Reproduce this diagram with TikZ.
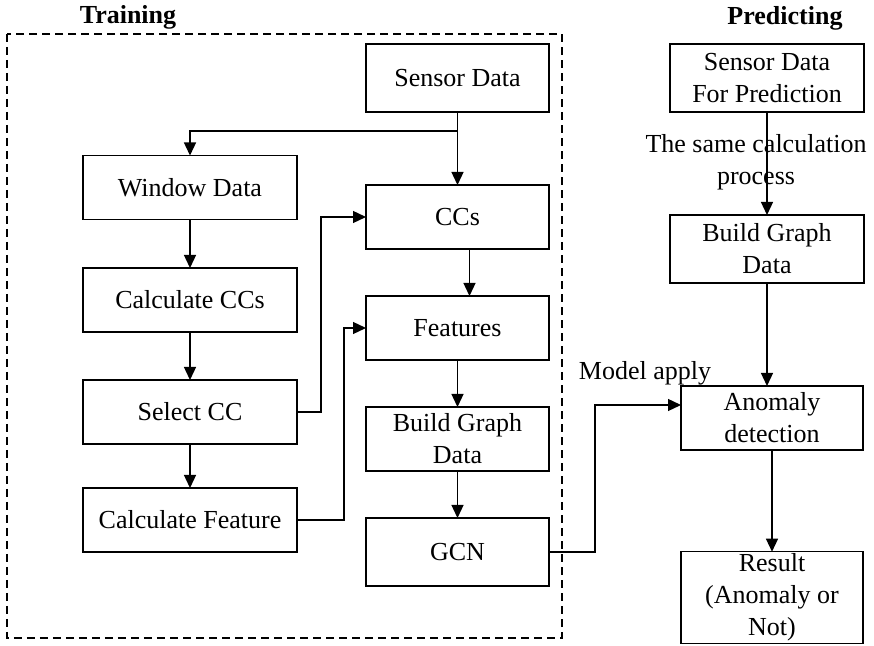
\documentclass[tikz,border=0pt]{standalone}
\usepackage{fontspec}
\setmainfont{Liberation Serif}
\usetikzlibrary{arrows.meta}

\tikzset{
	block/.style={draw, rectangle, align=center, inner sep=1pt, outer sep=0pt, line width=0.65pt},
	lblock/.style={block, minimum width=107pt, minimum height=32pt},
	mblock/.style={block, minimum width=91.5pt, minimum height=32pt},
	pblock/.style={block, minimum width=97pt, minimum height=34pt},
}

\begin{document}
\begin{tikzpicture}[x=0.5pt, y=-0.5pt, >={Triangle[length=6.5pt,width=6pt]},
	every node/.append style={font=\fontsize{13}{16}\selectfont},
	line width=0.65pt]
			\useasboundingbox (0,0) rectangle (874,646);
		
			% training part
			\draw[dashed, dash pattern=on 4pt off 2.5pt] (7,34) rectangle (562,638);
			\node[font=\fontsize{13}{16}\selectfont\bfseries] (train) at (128,17) {Training};
		
			\node[mblock, minimum height=34pt] (sd) at (457.5,78) {Sensor Data};
			\node[lblock] (wd) at (190,187.5) {Window Data};
			\node[lblock] (ccc) at (190,300) {Calculate CCs};
			\node[lblock] (scc) at (190,412) {Select CC};
			\node[lblock] (cf) at (190,520) {Calculate Feature};
			\node[mblock] (ccs) at (457.5,217) {CCs};
			\node[mblock] (feat) at (457.5,328) {Features};
			\node[mblock] (bgd) at (457.5,439) {Build Graph\\Data};
			\node[mblock, minimum height=34pt] (gcn) at (457.5,552) {GCN};
			\coordinate (split) at (457.5,131);
		
			\draw[->] (sd) to (ccs);
			\draw[->] (split) -| (wd);
			\draw[->] (wd) to (ccc);
			\draw[->] (ccc) to (scc);
			\draw[->] (scc) to (cf);
			\draw[->] (scc.east) -- ++(24,0) |- (ccs.west);
			\draw[->] (cf.east) -- ++(47,0) |- (feat.west);
			\draw[->] ([xshift=6pt]ccs.south) to ([xshift=6pt]feat.north);
			\draw[->] (feat) to (bgd);
			\draw[->] (bgd) to (gcn);
		
			% predicting part
			\node[font=\fontsize{13}{16}\selectfont\bfseries] (pred) at (785,18) {Predicting};
			\node[pblock] (psd) at (767,78) {Sensor Data\\For Prediction};
			\node[pblock] (pbgd) at (767,249) {Build Graph\\Data};
			\node[mblock, minimum width=91pt] (ad) at (772,418) {Anomaly\\detection};
			\node[mblock, minimum width=91pt, minimum height=45.5pt] (res) at (772,597.5) {Result\\(Anomaly or\\Not)};
		
			\draw[->] (psd) to (pbgd);
			\node[align=center, inner sep=0pt] (same) at (756,162) {The same calculation\\process};
			\draw[->] (pbgd.south) to (pbgd.south |- ad.north);
			\draw[->] (ad) to (res);
			\draw[->] (gcn.east) -- ++(46,0) |- ([yshift=6.5pt]ad.west);
			\node[inner sep=0pt] (apply) at (645,373) {Model apply};
		\end{tikzpicture}
\end{document}
